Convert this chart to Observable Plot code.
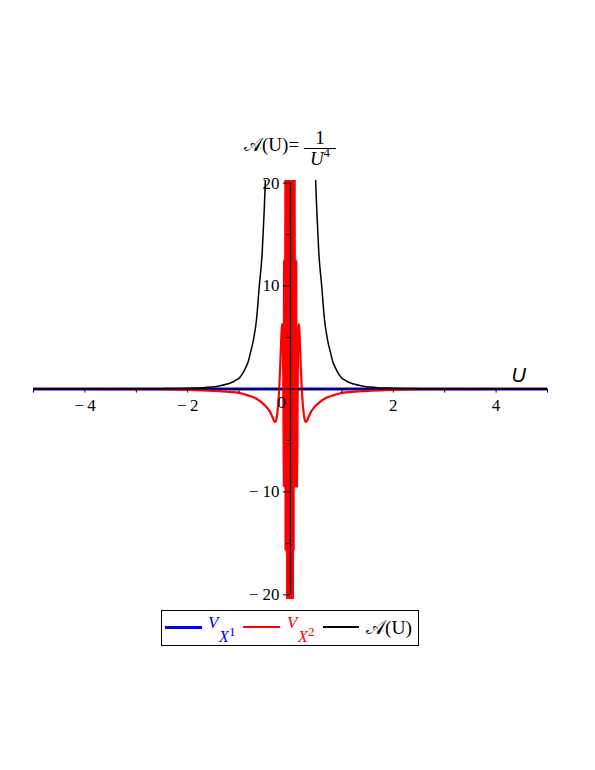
<!DOCTYPE html>
<html>
<head>
<meta charset="utf-8">
<script src="https://cdn.jsdelivr.net/npm/d3@7"></script>
<script src="https://cdn.jsdelivr.net/npm/@observablehq/plot@0.6"></script>
<style>
  body { margin: 0; background: #fff; }
  #wrap { position: relative; width: 595px; height: 770px; font-family: "Liberation Serif", "DejaVu Serif", serif; color: #000; }
  #chart { position: absolute; left: 0; top: 0; }
  .t { position: absolute; white-space: nowrap; line-height: 1; }
  .box { position: absolute; left: 161px; top: 610px; width: 258px; height: 36px; border: 1px solid #000; box-sizing: border-box; }
  .ln { position: absolute; }
</style>
</head>
<body>
<div id="wrap">
  <div id="chart"></div>

  <!-- title: A(U) = 1 / U^4 -->
  <div class="t" style="left:244px; top:135px; font-size:19px;">𝒜(U)=</div>
  <div class="t" style="left:305px; top:128px; width:30px; text-align:center; font-size:19px;">1</div>
  <div class="ln" style="left:304px; top:148px; width:32px; height:1px; background:#000;"></div>
  <div class="t" style="left:305px; top:149px; width:30px; text-align:center; font-size:19px;"><i>U</i><span style="font-size:13px; position:relative; top:-8px;">4</span></div>

  <!-- legend -->
  <div class="box"></div>
  <div class="ln" style="left:165px; top:626px; width:37px; height:3px; background:#0000ff;"></div>
  <div class="t" style="left:208px; top:614px; font-size:17px; color:#0000ff;"><i>V</i></div>
  <div class="t" style="left:219px; top:629px; font-size:16px; color:#0000ff;"><i>X</i></div>
  <div class="t" style="left:229px; top:625px; font-size:13px; color:#0000ff;">1</div>

  <div class="ln" style="left:243px; top:626px; width:37px; height:2px; background:#ff0000;"></div>
  <div class="t" style="left:287px; top:614px; font-size:17px; color:#ff0000;"><i>V</i></div>
  <div class="t" style="left:298px; top:629px; font-size:16px; color:#ff0000;"><i>X</i></div>
  <div class="t" style="left:308px; top:625px; font-size:13px; color:#ff0000;">2</div>

  <div class="ln" style="left:323px; top:626px; width:36px; height:1.5px; background:#000;"></div>
  <div class="t" style="left:366px; top:618px; font-size:19.5px;">𝒜(U)</div>
</div>
<script>
// ---- data ----
const xTicks = [-5, -4, -3, -2, -1, 1, 2, 3, 4, 5];
const xLabelVals = [-4, -2, 2, 4];
const xLabelText = ["−\u20094", "−\u20092", "2", "4"];
const yMajorTicks = [-20, -10, 10, 20];
const yMinorTicks = [-15, -5, 5, 15];
const yLabelVals = [-20, -10, 10, 20];
const yLabelText = ["− 20", "− 10", "10", "20"];

// V_X1 (blue): flat at zero
const blueU = [-5, 5];
const blueV = [0, 0];

// V_X2 (red)
const redU = [
  -5, -4, -3, -2.5, -2, -1.5, -1.2, -1, -0.85, -0.7, -0.6, -0.53, -0.46, -0.4, -0.35, -0.32, -0.3, -0.28, -0.26, -0.24,
  -0.22, -0.2, -0.185, -0.172, -0.163, -0.155, -0.148, -0.142, -0.136,
  -0.13, -0.125, -0.121, -0.117, -0.113, -0.109, -0.105, -0.101, -0.097, -0.093,
  -0.089, -0.085, -0.081, -0.077, -0.073, -0.069, -0.065, -0.061, -0.057, -0.053,
  -0.049, -0.045, -0.041, -0.037, -0.033, -0.029, -0.025, -0.021, -0.017, -0.013,
  -0.009, -0.005, -0.001, 0.003, 0.007, 0.011, 0.015, 0.019, 0.023, 0.027,
  0.031, 0.035, 0.039, 0.043, 0.047, 0.051, 0.055, 0.059, 0.062, 0.066,
  0.07, 0.074, 0.078, 0.082, 0.086, 0.09, 0.094, 0.098, 0.102, 0.106,
  0.11, 0.113, 0.117, 0.121, 0.126,
  0.136, 0.142, 0.148, 0.155, 0.163, 0.172, 0.185, 0.2, 0.22,
  0.24, 0.26, 0.28, 0.3, 0.32, 0.35, 0.4, 0.46, 0.53, 0.6, 0.7, 0.85, 1, 1.2, 1.5, 2, 2.5, 3, 4, 5
];
const redV = [
  -0.002, -0.004, -0.01, -0.02, -0.08, -0.18, -0.28, -0.38, -0.6, -0.85, -1.15, -1.45, -1.8, -2.2, -2.75, -3.1, -3.2, -3.05, -2.5, -1.5,
  0, 2.2, 4.3, 5.8, 6.3, 5.8, 4, 1.5, -3,
  -9.5, 12.5, -9.5, 12.5, -9.5, 12.5, -9.5, 25, -15.7, 25,
  -15.7, 25, -15.7, 25, -15.7, 25, -25, 25, -25, 25,
  -25, 25, -25, 25, -25, 25, -25, 25, -25, 25,
  -25, 25, -25, 25, -25, 25, -25, 25, -25, 25,
  -25, 25, -25, 25, -25, 25, -15.7, 25, -15.7, 25,
  -9.5, 25, -9.5, 25, -9.5, 12.5, -9.5, 12.5, -9.5, 12.5,
  -9.5, 12.5, -9.5, 6, -9.5,
  -3, 1.5, 4, 5.8, 6.3, 5.8, 4.3, 2.2, 0,
  -1.5, -2.5, -3.05, -3.2, -3.1, -2.75, -2.2, -1.8, -1.45, -1.15, -0.85, -0.6, -0.38, -0.28, -0.18, -0.08, -0.02, -0.01, -0.004, -0.002
];

// A(U) (black): two branches, gap at U = 0
const blackU = [
  -5, -4, -3, -2.5, -2, -1.85, -1.7, -1.55, -1.44, -1.35, -1.25, -1.18, -1.11, -1.05, -1, -0.96, -0.92, -0.87, -0.82, -0.78,
  -0.72, -0.66, -0.607, -0.55, -0.51, -0.48, -0.46,
  0,
  0.46, 0.48, 0.51, 0.55, 0.607, 0.66, 0.72,
  0.78, 0.82, 0.87, 0.92, 0.96, 1, 1.05, 1.11, 1.18, 1.25, 1.35, 1.44, 1.55, 1.7, 1.85, 2, 2.5, 3, 4, 5
];
const blackV = [
  0.002, 0.005, 0.015, 0.03, 0.07, 0.095, 0.13, 0.19, 0.25, 0.33, 0.45, 0.56, 0.7, 0.88, 1.05, 1.3, 1.6, 2.1, 2.7, 3.5,
  4.8, 6.8, 10, 13.3, 17.5, 21.5, 25,
  NaN,
  25, 21.5, 17.5, 13.3, 10, 6.8, 4.8,
  3.5, 2.7, 2.1, 1.6, 1.3, 1.05, 0.88, 0.7, 0.56, 0.45, 0.33, 0.25, 0.19, 0.13, 0.095, 0.07, 0.03, 0.015, 0.005, 0.002
];

const blue = blueU.map((u, i) => ({u, v: blueV[i]}));
const red = redU.map((u, i) => ({u, v: redV[i]}));
const black = blackU.map((u, i) => ({u, v: blackV[i]}));

const serif = "Liberation Serif";

const chart = Plot.plot({
  width: 595,
  height: 605,
  marginLeft: 33,
  marginRight: 48,
  marginTop: 180,
  marginBottom: 6,
  x: {domain: [-5, 5], axis: null},
  y: {domain: [-20.45, 20.25], axis: null},
  style: {fontFamily: serif, background: "transparent", overflow: "visible"},
  marks: [
    Plot.line(blue, {x: "u", y: "v", stroke: "#0000ff", strokeWidth: 3, clip: true}),
    Plot.line(red, {x: "u", y: "v", stroke: "#ff0000", strokeWidth: 2.2, curve: "monotone-x", clip: true}),
    Plot.line(black, {x: "u", y: "v", stroke: "#000000", strokeWidth: 1.5, curve: "monotone-x", clip: true}),
    // axes through the origin
    Plot.ruleY([0], {stroke: "#000", strokeWidth: 1}),
    Plot.ruleX([0], {y1: -20, y2: 20, stroke: "#000", strokeWidth: 1.3}),
    Plot.ruleX(xTicks, {x: d => d, y1: 0, y2: -0.4, stroke: "#000"}),
    Plot.ruleY(yMajorTicks, {y: d => d, x1: 0, x2: -0.14, stroke: "#000"}),
    Plot.ruleY(yMinorTicks, {y: d => d, x1: 0, x2: -0.08, stroke: "#000"}),
    Plot.text(xLabelVals, {x: d => d, y: 0, text: (d, i) => xLabelText[i], dy: 17, fontSize: 17, fontFamily: serif, fill: "#000"}),
    Plot.text(yLabelVals, {x: 0, y: d => d, text: (d, i) => yLabelText[i], dx: -11, textAnchor: "end", fontSize: 17, fontFamily: serif, fill: "#000"}),
    Plot.text(["0"], {x: 0, y: 0, text: d => d, dx: -9, dy: 14, fontSize: 17, fontFamily: serif, fill: "#000"}),
    Plot.text(["U"], {x: 4.44, y: 0, text: d => d, dy: -13.5, fontSize: 20, fontFamily: "Liberation Sans", fontStyle: "italic", fill: "#000"})
  ]
});
document.getElementById("chart").appendChild(chart);
</script>
</body>
</html>
